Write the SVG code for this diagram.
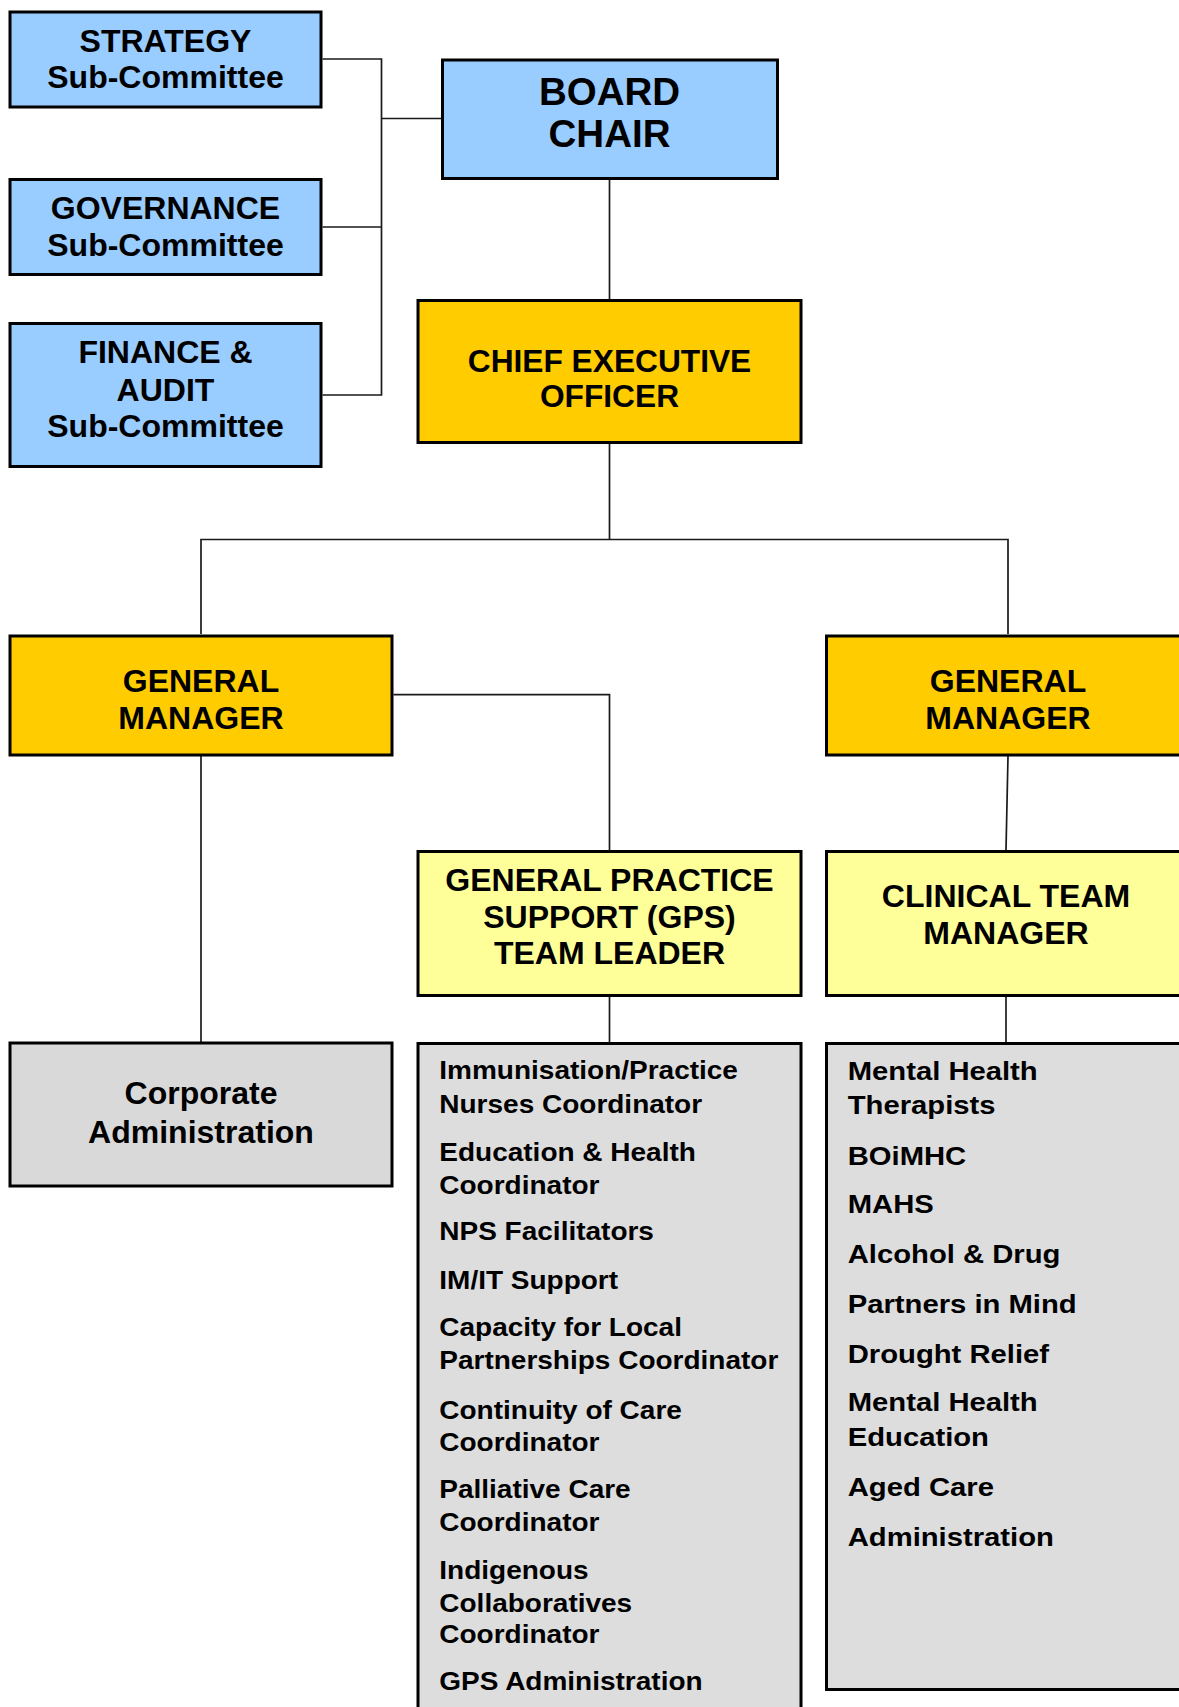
<svg xmlns="http://www.w3.org/2000/svg" width="1179" height="1707" viewBox="0 0 1179 1707">
<style>
.box{stroke:#000;stroke-width:3}
.blue{fill:#99CCFF}
.orange{fill:#FFCC00}
.yellow{fill:#FFFF99}
.grey{fill:#DDDDDD}
.corp{fill:#D9D9D9}
text{font-family:"Liberation Sans",Arial,sans-serif;font-weight:bold;fill:#000}
.c{text-anchor:middle}
.f32{font-size:32px}
.f38{font-size:38.5px}
.f31{font-size:31.7px}
.li{font-size:25px}
.conn{stroke:#1a1a1a;stroke-width:1.7;fill:none}
</style>
<rect width="1179" height="1707" fill="#fff"/>
<g id="connectors">
<path class="conn" d="M322.5 59H381.5V395H322.5M322.5 227H381.5M381.5 118.5H441"/>
<path class="conn" d="M609.5 180V299"/>
<path class="conn" d="M609.5 444V539.5M201 634V539.5H1008V634"/>
<path class="conn" d="M393.5 694.7H609.5V850"/>
<path class="conn" d="M201 756V1042"/>
<path class="conn" d="M1008 756L1006 850"/>
<path class="conn" d="M609.5 996.7V1042"/>
<path class="conn" d="M1006 996.7V1042"/>
</g>
<g id="strategy">
<rect class="box blue" x="10" y="12" width="311" height="95"/>
<text class="c f32" x="165.5" y="52.3">STRATEGY</text>
<text class="c f32" x="165.5" y="88.3">Sub-Committee</text>
</g>
<g id="governance">
<rect class="box blue" x="10" y="179.5" width="311" height="95"/>
<text class="c f32" x="165.5" y="219.3">GOVERNANCE</text>
<text class="c f32" x="165.5" y="256">Sub-Committee</text>
</g>
<g id="finance">
<rect class="box blue" x="10" y="323.5" width="311" height="143"/>
<text class="c f32" x="165.5" y="363.3">FINANCE &amp;</text>
<text class="c f32" x="165.5" y="400.7">AUDIT</text>
<text class="c f32" x="165.5" y="437.3">Sub-Committee</text>
</g>
<g id="board">
<rect class="box blue" x="442.5" y="60" width="335" height="118.5"/>
<text class="c f38" x="609.5" y="105">BOARD</text>
<text class="c f38" x="609.5" y="147">CHAIR</text>
</g>
<g id="ceo">
<rect class="box orange" x="418" y="300.5" width="383" height="142"/>
<text class="c f31" x="609.5" y="371.7">CHIEF EXECUTIVE</text>
<text class="c f31" x="609.5" y="407.3">OFFICER</text>
</g>
<g id="gm-left">
<rect class="box orange" x="10" y="636" width="382" height="119"/>
<text class="c f32" x="201" y="692.3">GENERAL</text>
<text class="c f32" x="201" y="729.3">MANAGER</text>
</g>
<g id="gm-right">
<rect class="box orange" x="826.5" y="636" width="400" height="119"/>
<text class="c f32" x="1008" y="692.3">GENERAL</text>
<text class="c f32" x="1008" y="729.3">MANAGER</text>
</g>
<g id="gps-leader">
<rect class="box yellow" x="418" y="851.5" width="383" height="144"/>
<text class="c f32" x="609.5" y="890.7">GENERAL PRACTICE</text>
<text class="c f32" x="609.5" y="927.7">SUPPORT (GPS)</text>
<text class="c f32" x="609.5" y="964.3">TEAM LEADER</text>
</g>
<g id="clinical">
<rect class="box yellow" x="826.5" y="851.5" width="400" height="144"/>
<text class="c f32" x="1006" y="907.3">CLINICAL TEAM</text>
<text class="c f32" x="1006" y="944.3">MANAGER</text>
</g>
<g id="corporate">
<rect class="box corp" x="10" y="1043" width="382" height="143"/>
<text class="c" x="201" y="1104" style="font-size:32px">Corporate</text>
<text class="c" x="201" y="1143.3" style="font-size:32px">Administration</text>
</g>
<g id="gps-list">
<rect class="box grey" x="418" y="1043.5" width="383" height="700"/>
<g transform="translate(439.3 0) scale(1.12 1)">
<text class="li" x="0" y="1079.2">Immunisation/Practice</text>
<text class="li" x="0" y="1113.3">Nurses Coordinator</text>
<text class="li" x="0" y="1161.1">Education &amp; Health</text>
<text class="li" x="0" y="1194">Coordinator</text>
<text class="li" x="0" y="1240.4">NPS Facilitators</text>
<text class="li" x="0" y="1288.6">IM/IT Support</text>
<text class="li" x="0" y="1336.4">Capacity for Local</text>
<text class="li" x="0" y="1369.3">Partnerships Coordinator</text>
<text class="li" x="0" y="1418.8">Continuity of Care</text>
<text class="li" x="0" y="1450.8">Coordinator</text>
<text class="li" x="0" y="1497.7">Palliative Care</text>
<text class="li" x="0" y="1531">Coordinator</text>
<text class="li" x="0" y="1578.7">Indigenous</text>
<text class="li" x="0" y="1611.6">Collaboratives</text>
<text class="li" x="0" y="1643.1">Coordinator</text>
<text class="li" x="0" y="1690.5">GPS Administration</text>
</g>
</g>
<g id="clinical-list">
<rect class="box grey" x="826.5" y="1043.5" width="400" height="646"/>
<g transform="translate(847.7 0) scale(1.17 1)">
<text class="li" x="0" y="1080">Mental Health</text>
<text class="li" x="0" y="1114.2">Therapists</text>
<text class="li" x="0" y="1164.6">BOiMHC</text>
<text class="li" x="0" y="1212.8">MAHS</text>
<text class="li" x="0" y="1263.2">Alcohol &amp; Drug</text>
<text class="li" x="0" y="1312.7">Partners in Mind</text>
<text class="li" x="0" y="1362.7">Drought Relief</text>
<text class="li" x="0" y="1411.3">Mental Health</text>
<text class="li" x="0" y="1446">Education</text>
<text class="li" x="0" y="1496.3">Aged Care</text>
<text class="li" x="0" y="1545.9">Administration</text>
</g>
</g>
</svg>
